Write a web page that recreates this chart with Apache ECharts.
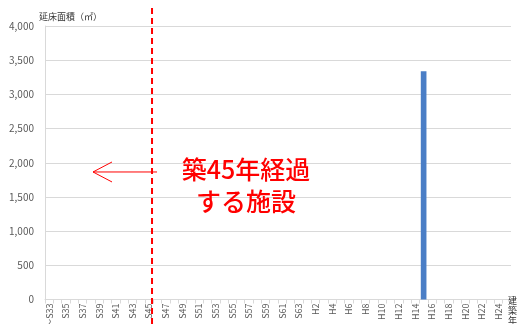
<!DOCTYPE html>
<html><head><meta charset="utf-8">
<script src="https://cdn.jsdelivr.net/npm/echarts@6/dist/echarts.min.js"></script>
<style>html,body{margin:0;padding:0;background:#fff}#c{width:520px;height:324px}</style>
</head><body><div id="c"></div>
<script>
const showa = [];
for (let y = 34; y <= 63; y++) showa.push('S' + y);
const heisei = [];
for (let y = 1; y <= 25; y++) heisei.push('H' + y);
const categories = ['～S33'].concat(showa, heisei);
const barYear = 'H15';
const barValue = 3340;
const values = categories.map(c => (c === barYear ? barValue : 0));
const cutoffYear = 'S45';
const arrowValue = 1865;
const xName = '建築年';

const font = '"Noto Sans CJK JP", "Noto Sans", sans-serif';
const chart = echarts.init(document.getElementById('c'));
chart.setOption({
  animation: false,
  grid: { left: 45, right: 9, top: 26, bottom: 24.5, containLabel: false, outerBoundsMode: 'none' },
  xAxis: {
    type: 'category',
    data: categories,
    axisLine: { lineStyle: { color: '#d9d9d9' } },
    axisTick: { show: true, interval: 0, length: 4, lineStyle: { color: '#d9d9d9' } },
    axisLabel: { interval: 1, rotate: 90, fontSize: 9, color: '#595959', fontFamily: font, margin: 4 },
    splitLine: { show: false }
  },
  yAxis: {
    type: 'value',
    min: 0, max: 4000, interval: 500,
    name: '延床面積（㎡）',
    nameLocation: 'end',
    nameGap: 5,
    nameTextStyle: { fontFamily: font, fontSize: 9, color: '#333', align: 'left', padding: [0, 0, 0, -6] },
    axisLine: { show: true, lineStyle: { color: '#d9d9d9' } },
    axisTick: { show: false },
    axisLabel: { fontSize: 10, color: '#595959', fontFamily: font, margin: 11,
      formatter: v => v.toLocaleString('en-US') },
    splitLine: { lineStyle: { color: '#d9d9d9' } }
  },
  series: [{
    type: 'bar',
    data: values,
    barWidth: '68%',
    itemStyle: { color: '#4a7ec6' }
  }]
});

const x0 = chart.convertToPixel({ xAxisIndex: 0 }, cutoffYear) + 3;
const ay = chart.convertToPixel({ yAxisIndex: 0 }, arrowValue);
const yBase = chart.convertToPixel({ yAxisIndex: 0 }, 0);
const nameChars = xName.split('').map((ch, i) => ({
  type: 'text', x: 508, y: yBase - 3 + i * 10,
  style: { text: ch, fill: '#333', font: '9px ' + font, align: 'left', verticalAlign: 'top' }, z: 100
}));
chart.setOption({
  graphic: [
    { type: 'line', shape: { x1: x0, y1: 8, x2: x0, y2: 324 }, style: { stroke: '#ff0000', lineWidth: 2, lineDash: [6, 4] }, z: 100 },
    { type: 'polyline', shape: { points: [[93 + 19, ay - 10], [93, ay], [93 + 19, ay + 10]] }, style: { stroke: '#ff0000', lineWidth: 1, fill: null }, z: 100 },
    { type: 'line', shape: { x1: 93, y1: ay, x2: x0 + 5, y2: ay }, style: { stroke: '#ff0000', lineWidth: 1 }, z: 100 },
    { type: 'text', x: 246, y: 153, style: { text: '築45年経過\nする施設', fill: '#ff0000', font: '500 25px ' + font, align: 'center', verticalAlign: 'top', lineHeight: 32 }, z: 100 }
  ].concat(nameChars)
});
</script></body></html>
